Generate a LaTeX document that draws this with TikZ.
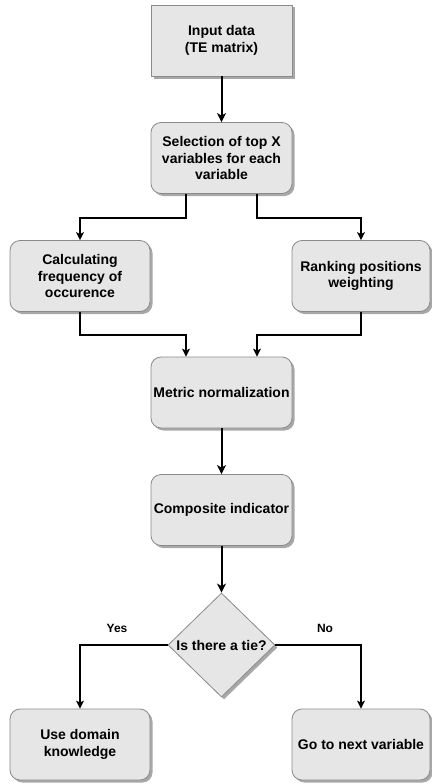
\documentclass[tikz,border=0pt]{standalone}
\usepackage{fontspec}
\setmainfont{Liberation Sans}
\usetikzlibrary{shapes.geometric,shadows,arrows.meta}
\definecolor{boxfill}{HTML}{E6E6E6}
\definecolor{boxline}{HTML}{8A8A8A}
\definecolor{boxshade}{HTML}{A8A8A8}
\begin{document}
\begin{tikzpicture}[x=1pt,y=-1pt,
    box/.style={draw=boxline, fill=boxfill, line width=0.8pt, rounded corners=10pt,
      minimum width=141pt, minimum height=71pt, align=center, inner sep=1pt,
      font=\bfseries\fontsize{14}{16.5}\selectfont,
      drop shadow={shadow xshift=2.5pt, shadow yshift=-2.5pt, fill=boxshade, opacity=1}},
    sbox/.style={box, minimum width=138pt},
    decide/.style={diamond, draw=boxline, fill=boxfill, line width=0.8pt, aspect=1,
      minimum width=107pt, minimum height=104pt, inner sep=0pt,
      font=\bfseries\fontsize{14}{16.5}\selectfont,
      drop shadow={shadow xshift=2.5pt, shadow yshift=-2.5pt, fill=boxshade, opacity=1}},
    lbl/.style={font=\bfseries\fontsize{12}{14}\selectfont},
    flowarrow/.style={-{Stealth[length=9pt,width=9pt,inset=2.5pt]}, line width=2pt},
    branch/.style={-{Stealth[length=8pt,width=8pt,inset=2pt]}, line width=1.2pt}]
          \useasboundingbox (0,0) rectangle (431,784);
          \node[box, rounded corners=0pt] at (221.5,40.5) (input) {Input data\\(TE matrix)};
          \node[box] at (221.5,158) (select) {Selection of top X\\variables for each\\variable};
          \node[box, minimum width=140pt] at (80,276) (calc) {Calculating\\frequency of\\occurence};
          \node[sbox] at (361,276) (rank) {Ranking positions\\weighting};
          \node[box] at (221.5,392.5) (metric) {Metric normalization};
          \node[box] at (221.5,510) (comp) {Composite indicator};
          \node[decide] at (221.5,645) (tie) {Is there a tie?};
          \node[box, minimum width=140pt] at (80,744.5) (domain) {Use domain\\knowledge};
          \node[sbox] at (361,744.5) (next) {Go to next variable};
          \node[lbl] at (117,628) (yes) {Yes};
          \node[lbl] at (325,628) (no) {No};
          \draw[flowarrow] (input) -- (select);
          \draw[branch] ([xshift=-35.5pt]select.south) -- ++(0,24) -| (calc.north);
          \draw[branch] ([xshift=35.5pt]select.south) -- ++(0,24) -| (rank.north);
          \draw[branch] (calc.south) -- ++(0,23) -| ([xshift=-35.5pt]metric.north);
          \draw[branch] (rank.south) -- ++(0,23) -| ([xshift=35.5pt]metric.north);
          \draw[flowarrow] (metric) -- (comp);
          \draw[flowarrow] (comp) -- (tie);
          \draw[branch] (tie.west) -| (domain.north);
          \draw[branch] (tie.east) -| (next.north);
        \end{tikzpicture}
\end{document}
